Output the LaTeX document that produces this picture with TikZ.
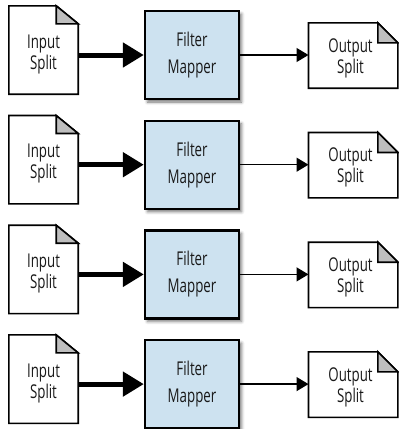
\documentclass[tikz,border=0pt]{standalone}
\usepackage{fontspec}
\setmainfont{Open Sans}[FakeStretch=0.7]
\usetikzlibrary{arrows.meta,calc,shadows.blur}
\definecolor{mapblue}{RGB}{205,226,240}
\definecolor{foldgray}{RGB}{190,190,190}
\definecolor{txt}{RGB}{25,25,25}
\begin{document}
\begin{tikzpicture}[x=1pt,y=-1pt,
  indoc/.style={minimum width=69pt, minimum height=88pt, inner sep=0pt, align=center,
    text=txt, font=\fontsize{19}{21}\selectfont},
  outdoc/.style={minimum width=89pt, minimum height=65pt, inner sep=0pt, align=center,
    text=txt, font=\fontsize{19}{21}\selectfont},
  mapper/.style={draw=black, line width=2.4pt, fill=mapblue, minimum width=94pt,
    minimum height=88pt, inner sep=0pt, align=center, text=txt,
    font=\fontsize{19}{27}\selectfont,
    blur shadow={shadow xshift=2.5pt, shadow yshift=-3pt, shadow blur radius=3pt, shadow opacity=55}},
  docline/.style={draw=black, line width=1.6pt, line join=miter},
  thickarrow/.style={line width=5pt, -{Triangle[length=21pt,width=24pt]}},
  thinarrow/.style={line width=1.5pt, -{Triangle[length=12pt,width=14pt]}}
]
\useasboundingbox (0,0) rectangle (399,429);
\foreach \i in {0,...,3} {
  \pgfmathsetmacro\t{11+109.7*\i}
  % input document
  \node[indoc] (in\i) at (43.5,\t+39) {};
  \node[indoc, minimum height=0pt] (inl\i) at (43.5,\t+43) {Input\\Split};
  \draw[docline] (in\i.north west) -- ($(in\i.north east)+(-22,0)$)
     -- ($(in\i.north east)+(0,18)$) -- (in\i.south east) -- (in\i.south west) -- cycle;
  \draw[docline, fill=foldgray] ($(in\i.north east)+(-22,0)$) -- ($(in\i.north east)+(-22,18)$)
     -- ($(in\i.north east)+(0,18)$) -- cycle;
  % mapper
  \node[mapper] (map\i) at (192,\t+44) {Filter\\Mapper};
  % output document
  \node[outdoc] (out\i) at (353.2,\t+44.5) {};
  \node[outdoc, minimum height=0pt] (outl\i) at (350.5,\t+47) {Output\\Split};
  \draw[docline] (out\i.north west) -- ($(out\i.north east)+(-20,0)$)
     -- ($(out\i.north east)+(0,20)$) -- (out\i.south east) -- (out\i.south west) -- cycle;
  \draw[docline, fill=foldgray] ($(out\i.north east)+(-20,0)$) -- ($(out\i.north east)+(-20,20)$)
     -- ($(out\i.north east)+(0,20)$) -- cycle;
  % connectors
  \draw[thickarrow] (in\i.east |- map\i.west) -- (map\i.west);
  \draw[thinarrow] (map\i.east) -- (map\i.east -| out\i.west);
}
\end{tikzpicture}
\end{document}
